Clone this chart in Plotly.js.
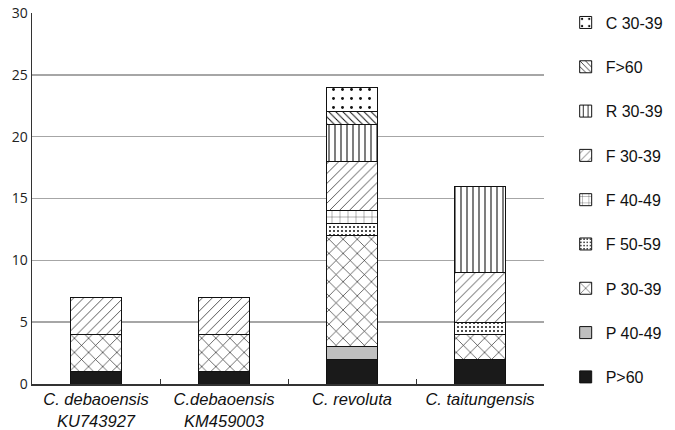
<!DOCTYPE html>
<html>
<head>
<meta charset="utf-8">
<script src="https://cdn.plot.ly/plotly-3.0.1.min.js"></script>
<style>html,body{margin:0;padding:0;background:#fff;}#chart{width:675px;height:430px;}</style>
</head>
<body>
<div id="chart"></div>
<script>
var categories = ['C. debaoensis<br>KU743927', 'C.debaoensis<br>KM459003', 'C. revoluta', 'C. taitungensis'];
var seriesNames = ['P>60', 'P 40-49', 'P 30-39', 'F 50-59', 'F 40-49', 'F 30-39', 'R 30-39', 'F>60', 'C 30-39'];
var pGt60   = [1, 1, 2, 2];
var p40_49  = [0, 0, 1, 0];
var p30_39  = [3, 3, 9, 2];
var f50_59  = [0, 0, 1, 1];
var f40_49  = [0, 0, 1, 0];
var f30_39  = [3, 3, 4, 4];
var r30_39  = [0, 0, 3, 7];
var fGt60   = [0, 0, 1, 0];
var c30_39  = [0, 0, 2, 0];
var yTicks = [0, 5, 10, 15, 20, 25, 30];

var seriesValues = [pGt60, p40_49, p30_39, f50_59, f40_49, f30_39, r30_39, fGt60, c30_39];
var styles = [
  {color: '#1a1a1a'},
  {color: '#bfbfbf'},
  {color: '#ffffff', pattern: {shape: 'x', size: 10, solidity: 0.12, fgcolor: '#111', bgcolor: '#fff'}},
  {color: '#ffffff', pattern: {shape: '.', size: 4, solidity: 0.2, fgcolor: '#111', bgcolor: '#fff'}},
  {color: '#ffffff', pattern: {shape: '+', size: 8, solidity: 0.08, fgcolor: '#111', bgcolor: '#fff'}},
  {color: '#ffffff', pattern: {shape: '/', size: 7, solidity: 0.1, fgcolor: '#111', bgcolor: '#fff'}},
  {color: '#ffffff', pattern: {shape: '|', size: 6, solidity: 0.18, fgcolor: '#111', bgcolor: '#fff'}},
  {color: '#ffffff', pattern: {shape: '\\', size: 5, solidity: 0.2, fgcolor: '#111', bgcolor: '#fff'}},
  {color: '#ffffff', pattern: {shape: '.', size: 9, solidity: 0.08, fgcolor: '#111', bgcolor: '#fff'}}
];

var traces = seriesNames.map(function(name, i) {
  var m = {color: styles[i].color, line: {color: '#111', width: 1}};
  if (styles[i].pattern) m.pattern = styles[i].pattern;
  return {
    type: 'bar', name: name, x: categories, y: seriesValues[i],
    marker: m, legendgroup: 'g' + i, legendrank: 100 - i, width: 0.4, hoverinfo: 'skip'
  };
});

var layout = {
  width: 675, height: 430,
  margin: {l: 31.5, r: 126, t: 6, b: 46, pad: 0},
  paper_bgcolor: '#fff', plot_bgcolor: '#fff',
  barmode: 'stack',
  showlegend: true,
  legend: {
    x: 1.2435, xanchor: 'right', y: 1.02, yanchor: 'top',
    traceorder: 'grouped', tracegroupgap: 20.5, maxheight: 430,
    font: {family: 'Liberation Sans, Arial, sans-serif', size: 16, color: '#111'},
    itemwidth: 30, bgcolor: 'rgba(0,0,0,0)', borderwidth: 0
  },
  xaxis: {
    type: 'category', showgrid: false, showline: true, linecolor: '#333', linewidth: 1.5,
    ticks: 'inside', tickson: 'boundaries', ticklen: 5, tickcolor: '#333',
    tickfont: {family: 'Liberation Sans, Arial, sans-serif', size: 16.5, color: '#111', style: 'italic'},
    zeroline: false
  },
  yaxis: {
    range: [0, 30], tickvals: yTicks, ticktext: yTicks.map(String),
    showgrid: true, gridcolor: '#a6a6a6', gridwidth: 1.5,
    showline: true, linecolor: '#333', linewidth: 1.5, zeroline: false,
    ticks: '', tickfont: {family: 'Open Sans, sans-serif', size: 14, color: '#222'}
  }
};

Plotly.newPlot('chart', traces, layout, {staticPlot: true, displayModeBar: false});
</script>
</body>
</html>
